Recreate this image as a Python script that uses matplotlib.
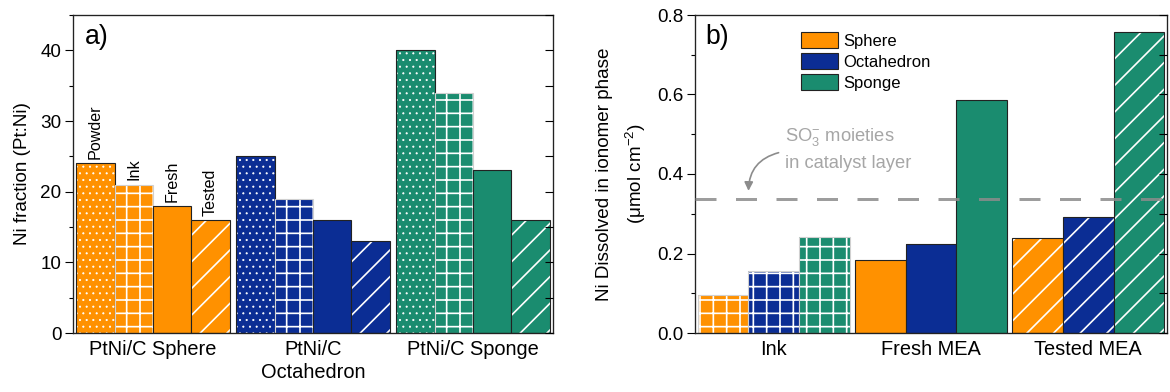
import numpy as np
import matplotlib
matplotlib.use('Agg')
import matplotlib.pyplot as plt
from matplotlib.ticker import MultipleLocator
from matplotlib.patches import Patch

plt.rcParams['font.family'] = ['Liberation Sans', 'DejaVu Sans']
plt.rcParams['mathtext.fontset'] = 'custom'
plt.rcParams['mathtext.rm'] = 'Liberation Sans'
plt.rcParams['mathtext.it'] = 'Liberation Sans:italic'
plt.rcParams['hatch.linewidth'] = 1.5

# panel a: Ni fraction by sample stage
samples = ['Powder', 'Ink', 'Fresh', 'Tested']
morph_labels = ['PtNi/C Sphere', 'PtNi/C\nOctahedron', 'PtNi/C Sponge']
sphere_frac = [24, 21, 18, 16]
octa_frac = [25, 19, 16, 13]
sponge_frac = [40, 34, 23, 16]

# panel b: Ni dissolved in ionomer phase
stages = ['Ink', 'Fresh MEA', 'Tested MEA']
legend_names = ['Sphere', 'Octahedron', 'Sponge']
sphere_dis = [0.095, 0.183, 0.238]
octa_dis = [0.155, 0.225, 0.292]
sponge_dis = [0.242, 0.585, 0.757]
so3_level = 0.336

colors = ['#FF9100', '#0B2D94', '#1A8C6F']
hatch_a = ['..', '+', '', '/']
hatch_b = ['+', '', '/']
edge_dark = '#222222'
edge_light = '#d0d0d0'


def hatched_bar(ax, x, h, w, color, hatch):
    # fill + white hatch, then a separate outline on top
    hlw = 0.7 if '.' in hatch else 1.5
    with plt.rc_context({'hatch.linewidth': hlw}):
        ax.bar(x, h, w, color=color, edgecolor='white', linewidth=0, hatch=hatch)
    ec = edge_light if hatch == '+' else edge_dark
    ax.bar(x, h, w, fill=False, edgecolor=ec, linewidth=1.0)


def right_ticks(ax, step):
    tw = ax.twinx()
    tw.set_ylim(ax.get_ylim())
    tw.yaxis.set_major_locator(MultipleLocator(step))
    tw.tick_params(axis='y', direction='in', length=7, width=1, labelright=False)
    for s in tw.spines.values():
        s.set_visible(False)


fig = plt.figure(figsize=(1170 / 80, 392 / 80), dpi=80)
ax1 = fig.add_axes([73 / 1170, 59 / 392, 480 / 1170, 318 / 392])
ax2 = fig.add_axes([695 / 1170, 59 / 392, 472 / 1170, 318 / 392])

# ---- panel a ----
wa = 0.24
for i, vals in enumerate([sphere_frac, octa_frac, sponge_frac]):
    for j, v in enumerate(vals):
        x = i + (j - 1.5) * wa
        hatched_bar(ax1, x, v, wa, colors[i], hatch_a[j])
        if i == 0:
            ax1.text(x, v + 0.6, samples[j], rotation=90, ha='center', va='bottom',
                     fontsize=14.5)

ax1.set_xlim(-0.5, 2.5)
ax1.set_ylim(0, 45)
ax1.set_xticks(range(3))
ax1.set_xticklabels(morph_labels, fontsize=18, linespacing=1.3)
ax1.yaxis.set_major_locator(MultipleLocator(10))
ax1.yaxis.set_minor_locator(MultipleLocator(5))
ax1.set_ylabel('Ni fraction (Pt:Ni)', fontsize=17, labelpad=8)
ax1.text(0.025, 0.93, 'a)', transform=ax1.transAxes, fontsize=24, va='center')
right_ticks(ax1, 5)

# ---- panel b ----
wb = 0.322
for k, vals in enumerate([sphere_dis, octa_dis, sponge_dis]):
    for s, v in enumerate(vals):
        x = s + (k - 1) * wb
        hatched_bar(ax2, x, v, wb, colors[k], hatch_b[s])

ax2.axhline(so3_level, color='#8c8c8c', lw=2.7, ls=(0, (7, 6.5)), alpha=0.85, zorder=5)
ax2.text(0.07, 0.494, r'SO$_3^{-}$ moieties', color='#a6a6a6', fontsize=16.5, va='center')
ax2.text(0.07, 0.427, 'in catalyst layer', color='#a6a6a6', fontsize=16.5, va='center')
ax2.annotate('', xy=(-0.16, 0.352), xytext=(0.045, 0.455),
             arrowprops=dict(arrowstyle='-|>', color='#8c8c8c', lw=1.5,
                             mutation_scale=16, connectionstyle='arc3,rad=0.4'))

handles = [Patch(facecolor=c, edgecolor=edge_dark, linewidth=1.0) for c in colors]
ax2.legend(handles, legend_names, loc='upper left', bbox_to_anchor=(0.225, 0.945),
           frameon=False, fontsize=15, borderpad=0, borderaxespad=0,
           handlelength=2.2, handleheight=1.1, labelspacing=0.25, handletextpad=0.3)

ax2.set_xlim(-0.5, 2.5)
ax2.set_ylim(0, 0.8)
ax2.set_xticks(range(3))
ax2.set_xticklabels(stages, fontsize=18)
ax2.yaxis.set_major_locator(MultipleLocator(0.2))
ax2.yaxis.set_minor_locator(MultipleLocator(0.1))
ax2.set_yticklabels([f'{v:.1f}' for v in ax2.get_yticks()])
ax2.set_ylabel('Ni Dissolved in ionomer phase\n(\u03bcmol cm$^{-2}$)', fontsize=17,
               labelpad=8, linespacing=1.6)
ax2.text(0.022, 0.93, 'b)', transform=ax2.transAxes, fontsize=24, va='center')
right_ticks(ax2, 0.1)

for ax in (ax1, ax2):
    for s in ax.spines.values():
        s.set_linewidth(1.2)
        s.set_color(edge_dark)
    ax.tick_params(axis='x', length=0, pad=6)
    ax.tick_params(axis='y', which='major', direction='out', length=7, width=1,
                   labelsize=17)
    ax.tick_params(axis='y', which='minor', direction='out', length=3.5, width=1)

fig.savefig('out.png', dpi=80, facecolor='white')
